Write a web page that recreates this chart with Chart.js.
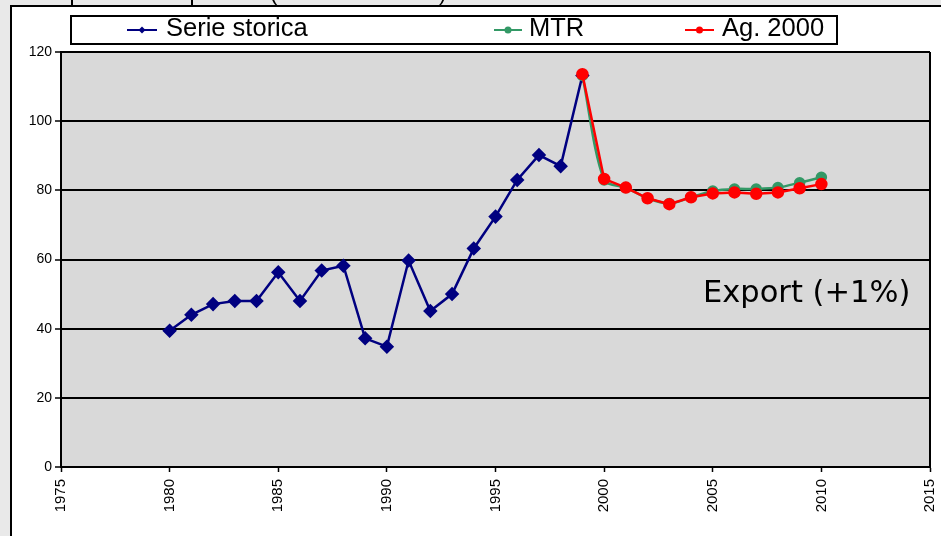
<!DOCTYPE html>
<html>
<head>
<meta charset="utf-8">
<script src="https://cdn.jsdelivr.net/npm/chart.js@4"></script>
<style>
  html, body { margin: 0; padding: 0; background: #e9e9e9; }
  #wrap { position: relative; width: 941px; height: 536px; }
  canvas { position: absolute; left: 0; top: 0; }
</style>
</head>
<body>
<div id="wrap"><canvas id="chart" width="941" height="536"></canvas></div>
<script>
// historical series 1980-1999
const storicaYears = [1980, 1981, 1982, 1983, 1984, 1985, 1986, 1987, 1988, 1989,
  1990, 1991, 1992, 1993, 1994, 1995, 1996, 1997, 1998, 1999];
const storicaValues = [39.4, 44.0, 47.1, 48.0, 48.0, 56.3, 48.0, 56.8, 58.2, 37.2,
  34.8, 59.7, 45.1, 50.0, 63.2, 72.4, 83.0, 90.2, 87.0, 113.2];

// forecasts 1999-2010
const forecastYears = [1999, 2000, 2001, 2002, 2003, 2004, 2005, 2006, 2007, 2008, 2009, 2010];
const mtrValues = [113.2, 83.0, 80.8, 77.7, 76.2, 78.0, 79.8, 80.4, 80.4, 80.8, 82.2, 83.8];
const agValues = [113.6, 83.3, 80.8, 77.7, 76.0, 78.0, 79.1, 79.4, 79.0, 79.4, 80.6, 81.8];

const seriesLabels = ['Serie storica', 'MTR', 'Ag. 2000'];
const seriesColors = ['#000080', '#339966', '#ff0000'];
const noteText = 'Export (+1%)';

const xTicks = [1975, 1980, 1985, 1990, 1995, 2000, 2005, 2010, 2015];
const yTicks = [0, 20, 40, 60, 80, 100, 120];

const toPoints = (xs, ys) => xs.map((x, i) => ({ x: x, y: ys[i] }));

// page frame, plot background, legend box and the note
const decorations = {
  id: 'decorations',
  beforeDraw(chart) {
    const ctx = chart.ctx;
    const a = chart.chartArea;
    ctx.save();
    // top strip with the cut-off table above
    ctx.fillStyle = '#e9e9e9';
    ctx.fillRect(0, 0, 941, 536);
    ctx.fillStyle = '#ffffff';
    ctx.fillRect(11, 6, 930, 530);
    ctx.strokeStyle = '#000';
    ctx.lineWidth = 2;
    ctx.beginPath();
    ctx.moveTo(11, 536); ctx.lineTo(11, 6); ctx.lineTo(941, 6);
    ctx.moveTo(72, 0); ctx.lineTo(72, 6);
    ctx.moveTo(192, 0); ctx.lineTo(192, 6);
    ctx.stroke();
    ctx.save();
    ctx.beginPath();
    ctx.rect(0, 0, 941, 5);
    ctx.clip();
    ctx.fillStyle = '#000';
    ctx.font = '22px "Liberation Sans", Arial, sans-serif';
    ctx.fillText('(', 270, 0);
    ctx.fillText(')', 439, 0);
    ctx.restore();
    // plot background
    ctx.fillStyle = '#d9d9d9';
    ctx.fillRect(a.left, a.top, a.right - a.left, a.bottom - a.top);
    ctx.restore();
  },
  afterDraw(chart) {
    const ctx = chart.ctx;
    const a = chart.chartArea;
    ctx.save();
    ctx.strokeStyle = '#000';
    ctx.lineWidth = 2;
    ctx.beginPath();
    ctx.moveTo(a.right, a.top);
    ctx.lineTo(a.right, a.bottom);
    ctx.stroke();

    // legend
    ctx.fillStyle = '#fff';
    ctx.fillRect(71, 16, 766, 28);
    ctx.strokeRect(71, 16, 766, 28);
    const items = [
      { line: [127, 157], text: 166, shape: 'diamond' },
      { line: [494, 522], text: 529, shape: 'circle' },
      { line: [685, 714], text: 722, shape: 'circle' }
    ];
    ctx.font = '25.5px "Liberation Sans", Arial, sans-serif';
    ctx.textBaseline = 'alphabetic';
    items.forEach((it, i) => {
      const c = seriesColors[i];
      const mid = (it.line[0] + it.line[1]) / 2;
      ctx.strokeStyle = c;
      ctx.lineWidth = 2;
      ctx.beginPath();
      ctx.moveTo(it.line[0], 30);
      ctx.lineTo(it.line[1], 30);
      ctx.stroke();
      ctx.fillStyle = c;
      ctx.beginPath();
      if (it.shape === 'diamond') {
        ctx.moveTo(mid, 26.5); ctx.lineTo(mid + 3.5, 30);
        ctx.lineTo(mid, 33.5); ctx.lineTo(mid - 3.5, 30);
        ctx.closePath();
      } else {
        ctx.arc(mid, 30, 3.5, 0, Math.PI * 2);
      }
      ctx.fill();
      ctx.fillStyle = '#000';
      ctx.fillText(seriesLabels[i], it.text, 36);
    });

    // note inside the plot
    ctx.fillStyle = '#000';
    ctx.font = '30.5px "DejaVu Sans", sans-serif';
    ctx.fillText(noteText, 703, 302);
    ctx.restore();
  }
};

new Chart(document.getElementById('chart'), {
  type: 'line',
  data: {
    datasets: [
      {
        label: seriesLabels[0],
        data: toPoints(storicaYears, storicaValues),
        borderColor: seriesColors[0],
        backgroundColor: seriesColors[0],
        borderWidth: 2.5,
        pointStyle: 'rectRot',
        pointRadius: 5.5,
        tension: 0,
        order: 2
      },
      {
        label: seriesLabels[1],
        data: toPoints(forecastYears, mtrValues),
        borderColor: seriesColors[1],
        backgroundColor: seriesColors[1],
        borderWidth: 2.5,
        pointStyle: 'circle',
        pointRadius: 4.5,
        tension: 0.3,
        order: 1
      },
      {
        label: seriesLabels[2],
        data: toPoints(forecastYears, agValues),
        borderColor: seriesColors[2],
        backgroundColor: seriesColors[2],
        borderWidth: 2.5,
        pointStyle: 'circle',
        pointRadius: 5,
        tension: 0,
        order: 0
      }
    ]
  },
  options: {
    responsive: false,
    animation: false,
    layout: { padding: { top: 52, right: 11, left: 0, bottom: 0 } },
    plugins: {
      legend: { display: false },
      tooltip: { enabled: false }
    },
    scales: {
      x: {
        type: 'linear',
        min: 1975,
        max: 2015,
        afterBuildTicks: (scale) => { scale.ticks = xTicks.map(v => ({ value: v })); },
        afterFit: (scale) => {
          scale.height = 69;
          scale.paddingLeft = 0;
          scale.paddingRight = 0;
        },
        ticks: {
          minRotation: 90,
          maxRotation: 90,
          padding: 7,
          color: '#000',
          font: { family: '"Liberation Sans", Arial, sans-serif', size: 15 },
          callback: (v) => String(v)
        },
        grid: {
          drawOnChartArea: false,
          drawTicks: true,
          tickLength: 5,
          tickColor: '#000',
          tickWidth: 1.5
        },
        border: { color: '#000', width: 2 }
      },
      y: {
        min: 0,
        max: 120,
        afterBuildTicks: (scale) => { scale.ticks = yTicks.map(v => ({ value: v })); },
        afterFit: (scale) => {
          scale.width = 61;
          scale.paddingTop = 0;
          scale.paddingBottom = 0;
        },
        ticks: {
          padding: 3,
          color: '#000',
          font: { family: '"Liberation Sans", Arial, sans-serif', size: 14 }
        },
        grid: {
          color: '#000',
          lineWidth: 2,
          drawTicks: true,
          tickLength: 6,
          tickColor: '#000',
          tickWidth: 1.5
        },
        border: { color: '#000', width: 2 }
      }
    }
  },
  plugins: [decorations]
});
</script>
</body>
</html>
